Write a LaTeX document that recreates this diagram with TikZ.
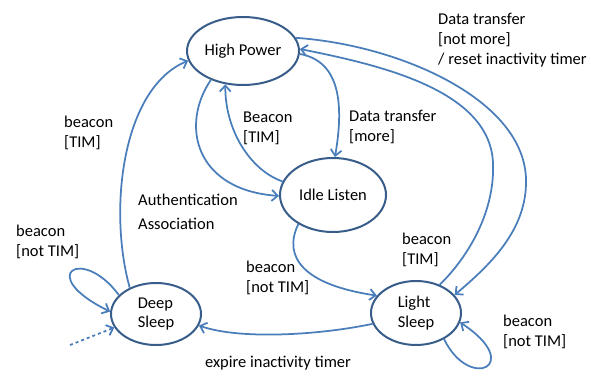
\documentclass[tikz,border=0pt]{standalone}
\usepackage{fontspec}
\setmainfont{Carlito}
\usetikzlibrary{arrows.meta,shapes.geometric}

\definecolor{edgeblue}{HTML}{4A7EBB}
\definecolor{rimblue}{HTML}{385D8A}

\tikzset{
  state/.style={ellipse, draw=rimblue, line width=2pt, inner sep=0pt, align=left},
  trans/.style={draw=edgeblue, line width=1.75pt,
    -{Straight Barb[length=6pt,width=11pt]}},
  lbl/.style={anchor=west, inner sep=0pt, align=left, text=black},
}

\begin{document}
\begin{tikzpicture}[x=1pt,y=-1pt,font=\fontsize{16.5}{19.8}\selectfont]
\useasboundingbox (0,0) rectangle (602,374);

% states
\node[state, minimum width=112pt, minimum height=68pt] (hp) at (243,51) {High Power};
\node[state, minimum width=106pt, minimum height=74pt] (il) at (333,195) {Idle Listen};
\node[state, minimum width=90pt, minimum height=62pt] (ds) at (156,314) {Deep\\Sleep};
\node[state, minimum width=90pt, minimum height=64pt] (ls) at (416,313) {Light\\Sleep};
\coordinate (init) at (70,345);

% transitions
\draw[trans] (ds.135) .. controls (108,210) and (122,88) .. (hp.190);
\draw[trans] (hp.-138) .. controls (180,125) and (195,190) .. (il.181);
\draw[trans] (il.165) .. controls (250,170) and (225,130) .. (hp.-118);
\draw[trans] (hp.-3) .. controls (345,62) and (342,115) .. (il.87);
\draw[trans] (hp.14) .. controls (400,45) and (525,100) .. (526,180)
                     .. controls (527,230) and (490,265) .. (ls.25);
\draw[trans] (ls.50) .. controls (470,255) and (495,210) .. (493,163)
                     .. controls (490,90) and (380,65) .. (hp.2);
\draw[trans] (il.-140) .. controls (282,258) and (305,285) .. (ls.156);
\draw[trans] (ls.194) .. controls (320,335) and (240,340) .. (ds.-15);
\draw[trans] (ds.153) .. controls (82,245) and (35,275) .. (ds.177);
\draw[trans] (ls.-43) .. controls (470,392) and (525,365) .. (ls.-12);
\draw[trans, dashed] (init) -- (ds.198);

% transition labels
\node[lbl] (l1) at (64,133) {beacon\\{}[TIM]};
\node[lbl] (l2) at (243,128) {Beacon\\{}[TIM]};
\node[lbl] (l3) at (349,127) {Data transfer\\{}[more]};
\node[lbl] (l4) at (438,40) {Data transfer\\{}[not more]\\/ reset inactivity timer};
\node[lbl] (l5) at (138,212) {Authentication\\[4pt]Association};
\node[lbl] (l6) at (16,242) {beacon\\{}[not TIM]};
\node[lbl] (l7) at (246,278) {beacon\\{}[not TIM]};
\node[lbl] (l8) at (402,250) {beacon\\{}[TIM]};
\node[lbl] (l9) at (503,332) {beacon\\{}[not TIM]};
\node[inner sep=0pt] (l10) at (278,363) {expire inactivity timer};
\end{tikzpicture}
\end{document}
